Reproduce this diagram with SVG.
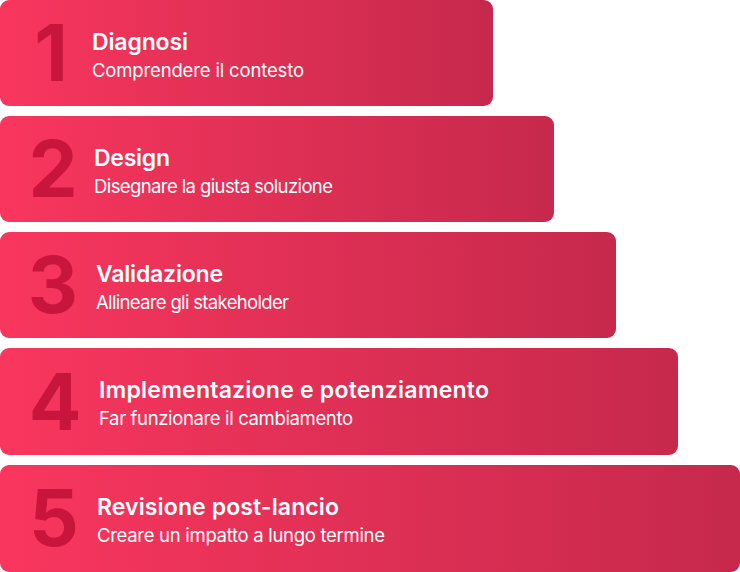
<svg xmlns="http://www.w3.org/2000/svg" width="740" height="572" viewBox="0 0 740 572">
<defs>
<linearGradient id="g" x1="0" y1="0" x2="1" y2="0" gradientUnits="objectBoundingBox">
<stop offset="0" stop-color="#F9365E"/>
<stop offset="1" stop-color="#C6294C"/>
</linearGradient>
<style>
.bar{fill:url(#g)}
.num{font-family:Inter,"Liberation Sans",sans-serif;font-weight:700;font-size:78px;fill:#C8153C;text-anchor:middle}
.t{font-family:Inter,"Liberation Sans",sans-serif;font-weight:600;font-size:23px;fill:#FFFFFF}
.s{font-family:Inter,"Liberation Sans",sans-serif;font-weight:400;font-size:18.5px;fill:#FFFFFF}
</style>
</defs>
<rect width="740" height="572" fill="#FFFFFF"/>
<g id="step1">
<rect class="bar" x="0" y="0" width="493" height="106" rx="9"/>
<text class="num" x="51" y="81">1</text>
<text class="t" x="92" y="50" textLength="96" lengthAdjust="spacing">Diagnosi</text>
<text class="s" x="92" y="77" textLength="212" lengthAdjust="spacing">Comprendere il contesto</text>
</g>
<g id="step2">
<rect class="bar" x="0" y="116" width="554" height="106" rx="9"/>
<text class="num" x="53" y="197">2</text>
<text class="t" x="94" y="166" textLength="76" lengthAdjust="spacing">Design</text>
<text class="s" x="94" y="193" textLength="239" lengthAdjust="spacing">Disegnare la giusta soluzione</text>
</g>
<g id="step3">
<rect class="bar" x="0" y="232" width="616" height="106" rx="9"/>
<text class="num" x="53" y="313">3</text>
<text class="t" x="96" y="282" textLength="127" lengthAdjust="spacing">Validazione</text>
<text class="s" x="96" y="309" textLength="193" lengthAdjust="spacing">Allineare gli stakeholder</text>
</g>
<g id="step4">
<rect class="bar" x="0" y="348" width="678" height="107" rx="9"/>
<text class="num" x="55" y="430">4</text>
<text class="t" x="99" y="398" textLength="390" lengthAdjust="spacing">Implementazione e potenziamento</text>
<text class="s" x="99" y="425" textLength="254" lengthAdjust="spacing">Far funzionare il cambiamento</text>
</g>
<g id="step5">
<rect class="bar" x="0" y="465" width="740" height="107" rx="9"/>
<text class="num" x="54" y="546">5</text>
<text class="t" x="97" y="515" textLength="242" lengthAdjust="spacing">Revisione post-lancio</text>
<text class="s" x="97" y="542" textLength="288" lengthAdjust="spacing">Creare un impatto a lungo termine</text>
</g>
</svg>
